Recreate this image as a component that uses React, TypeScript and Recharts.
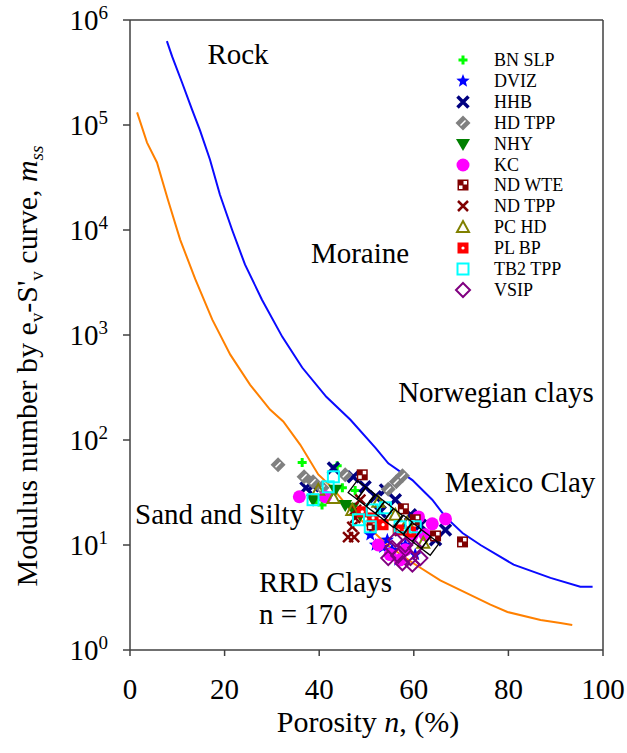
import { ComposedChart, Scatter, XAxis, YAxis, ReferenceLine, Legend, Customized } from "recharts";

const SERIF = '"Liberation Serif", "Times New Roman", serif';
const AXIS = "#404040";

// upper and lower bounds of the modulus number (porosity %, m_ss)
const upperBound = [
  [7.8, 6.3e5], [8.9, 4.5e5], [11.0, 2.54e5], [13.1, 1.41e5], [14.8, 8.9e4], [16.9, 4.7e4],
  [19.0, 2.18e4], [21.6, 1.0e4], [24.3, 4.7e3], [27.9, 2.17e3], [32.2, 960], [36.4, 490],
  [41.5, 258], [46.6, 156], [51.9, 84], [54.6, 60], [59.7, 41.5], [63.9, 27], [66.7, 18.5],
  [70.3, 13], [74.1, 10], [81.1, 6.5], [88.9, 4.86], [95.2, 4.0], [97.8, 4.0],
];
const lowerBound = [
  [1.5, 1.32e5], [3.6, 6.8e4], [5.7, 4.4e4], [8.0, 1.95e4], [10.6, 8.1e3], [13.8, 3.4e3],
  [17.4, 1.4e3], [21.2, 650], [25.4, 335], [29.6, 195], [32.4, 150], [36.0, 90], [39.8, 47],
  [42.8, 35], [46.6, 21.6], [54.4, 10], [59.9, 6.7], [65.6, 4.6], [76.2, 2.7], [79.8, 2.3],
  [86.8, 1.93], [91.0, 1.81], [93.5, 1.73],
];

// RRD clay test results
const bnSlp = [[36.4, 61], [43.8, 57], [40.6, 24], [39.4, 27], [44.9, 35], [47.6, 33]];
const dviz = [[54.4, 11.2], [55.4, 9.0], [56.7, 7.2], [51.9, 10], [58.2, 10], [60.3, 8.1], [53.5, 9.5], [50.8, 12.5]];
const hhb = [
  [43.0, 54], [37.2, 35], [38.7, 36.6], [47.2, 44.6], [49.7, 35.8], [51.9, 28.8], [54.0, 33.5],
  [56.1, 27], [52.9, 20.7], [59.3, 19.4], [61.4, 15.5], [66.7, 13.9], [64.6, 11.2], [57.1, 13.9],
];
const hdTpp = [[31.3, 58], [36.8, 44.6], [38.7, 40], [40.6, 35], [45.5, 46.6], [54.6, 34], [56.3, 40], [57.6, 45.7]];
const nhy = [[38.7, 27], [43.4, 33.5], [45.5, 24], [47.0, 22.6], [41.9, 28.8], [48.7, 19.4], [51.2, 17.4]];
const kc = [
  [35.8, 28.8], [41.3, 28.8], [52.5, 10], [57.1, 7.2], [58.2, 9.0], [61.0, 18.5], [63.9, 15.9],
  [66.7, 17.7], [62.4, 12.5], [55.0, 8.1], [59.7, 12.5],
];
const ndWte = [[49.1, 46.6], [57.8, 22.1], [51.2, 15.5], [64.6, 12.2], [70.3, 10.7], [60.3, 17.4]];
const ndTpp = [[46.1, 11.9], [47.4, 11.9], [47.0, 14.9], [47.6, 18.1], [47.8, 21.6], [48.7, 27]];
const pcHd = [[39.8, 33.5], [43.0, 28.1], [47.0, 21.6], [52.5, 25.8], [58.6, 16.3], [62.0, 10.5], [56.1, 19.4]];
const plBp = [[51.4, 18.1], [53.5, 15.6], [56.7, 13.9], [59.3, 13.3], [49.1, 20.7]];
const tb2Tpp = [[43.0, 44.6], [41.9, 35.8], [38.7, 27], [48.3, 17.4], [50.8, 14.9], [51.2, 21.6], [54.0, 22.6], [57.1, 14.9], [60.3, 14.9]];
const vsip = [
  [55.4, 9.4], [56.7, 7.9], [58.2, 10], [59.3, 7.5], [60.3, 9.4], [57.6, 6.7], [61.4, 7.5],
  [54.6, 7.5], [56.1, 11.2], [59.7, 6.5],
];
// outlined band over the main cluster
const band = [[48.0, 33.5], [49.9, 28.8], [51.9, 24.6], [53.8, 21.1], [55.7, 18.1], [57.8, 15.6], [59.7, 13.3], [61.6, 11.4], [63.5, 9.8]];

const xTicks = [0, 20, 40, 60, 80, 100];
const yTicks = [1, 10, 100, 1e3, 1e4, 1e5, 1e6];

const pts = (arr: number[][]) => arr.map(([x, y]) => ({ x, y }));

type Kind = "plus" | "star" | "xThick" | "diamondGrey" | "triDown" | "circle" | "checker" | "xThin" | "triOpen" | "dotSquare" | "squareOpen" | "diamondOpen" | "band";

const drawMarker = (kind: Kind, color: string, cx: number, cy: number) => {
  switch (kind) {
    case "plus":
      return (
        <path d={`M${cx - 4.5},${cy}H${cx + 4.5}M${cx},${cy - 4.5}V${cy + 4.5}`} stroke={color} strokeWidth={3} />
      );
    case "star": {
      const p: string[] = [];
      for (let i = 0; i < 10; i++) {
        const r = i % 2 === 0 ? 7 : 3;
        const a = -Math.PI / 2 + (i * Math.PI) / 5;
        p.push(`${cx + r * Math.cos(a)},${cy + r * Math.sin(a)}`);
      }
      return <polygon points={p.join(" ")} fill={color} />;
    }
    case "xThick":
      return (
        <path d={`M${cx - 5.5},${cy - 5.5}L${cx + 5.5},${cy + 5.5}M${cx + 5.5},${cy - 5.5}L${cx - 5.5},${cy + 5.5}`} stroke={color} strokeWidth={3.5} />
      );
    case "xThin":
      return (
        <path d={`M${cx - 5},${cy - 5}L${cx + 5},${cy + 5}M${cx + 5},${cy - 5}L${cx - 5},${cy + 5}`} stroke={color} strokeWidth={2.5} />
      );
    case "diamondGrey":
      return (
        <g>
          <polygon points={`${cx},${cy - 7.5} ${cx + 7.5},${cy} ${cx},${cy + 7.5} ${cx - 7.5},${cy}`} fill={color} />
          <path d={`M${cx - 2.5},${cy + 2.5}L${cx + 2.5},${cy - 2.5}`} stroke="#fff" strokeWidth={1.5} />
        </g>
      );
    case "triDown":
      return <polygon points={`${cx - 7},${cy - 5} ${cx + 7},${cy - 5} ${cx},${cy + 7}`} fill={color} />;
    case "circle":
      return <circle cx={cx} cy={cy} r={6.5} fill={color} />;
    case "checker":
      return (
        <g>
          <rect x={cx - 5.5} y={cy - 5.5} width={11} height={11} fill={color} />
          <rect x={cx + 0.5} y={cy - 4} width={3.5} height={3.5} fill="#fff" />
          <rect x={cx - 4} y={cy + 0.5} width={3.5} height={3.5} fill="#fff" />
        </g>
      );
    case "triOpen":
      return <polygon points={`${cx - 6},${cy + 5} ${cx + 6},${cy + 5} ${cx},${cy - 6}`} fill="none" stroke={color} strokeWidth={2} />;
    case "dotSquare":
      return (
        <g>
          <rect x={cx - 5.5} y={cy - 5.5} width={11} height={11} fill={color} />
          <circle cx={cx} cy={cy} r={1.6} fill="#fff" />
        </g>
      );
    case "squareOpen":
      return <rect x={cx - 5.5} y={cy - 5.5} width={11} height={11} fill="none" stroke={color} strokeWidth={2} />;
    case "diamondOpen":
      return <polygon points={`${cx},${cy - 7} ${cx + 7},${cy} ${cx},${cy + 7} ${cx - 7},${cy}`} fill="none" stroke={color} strokeWidth={2} />;
    case "band":
      return (
        <rect x={cx - 5.5} y={cy - 7.5} width={11} height={15} fill="none" stroke={color} strokeWidth={1.3} transform={`rotate(37 ${cx} ${cy})`} />
      );
  }
  return <g />;
};

const series: { name: string; data: number[][]; kind: Kind; color: string }[] = [
  { name: "BN SLP", data: bnSlp, kind: "plus", color: "#00ff00" },
  { name: "DVIZ", data: dviz, kind: "star", color: "#0000ff" },
  { name: "HHB", data: hhb, kind: "xThick", color: "#000080" },
  { name: "HD TPP", data: hdTpp, kind: "diamondGrey", color: "#808080" },
  { name: "NHY", data: nhy, kind: "triDown", color: "#008000" },
  { name: "KC", data: kc, kind: "circle", color: "#ff00ff" },
  { name: "ND WTE", data: ndWte, kind: "checker", color: "#800000" },
  { name: "ND TPP", data: ndTpp, kind: "xThin", color: "#800000" },
  { name: "PC HD", data: pcHd, kind: "triOpen", color: "#808000" },
  { name: "PL BP", data: plBp, kind: "dotSquare", color: "#ff0000" },
  { name: "TB2 TPP", data: tb2Tpp, kind: "squareOpen", color: "#00ffff" },
  { name: "VSIP", data: vsip, kind: "diamondOpen", color: "#800080" },
];

const LegendBox = () => (
  <div style={{ fontFamily: SERIF, fontSize: 18, color: "#000" }}>
    {series.map((s) => (
      <div key={s.name} style={{ display: "flex", alignItems: "center", height: 20.85 }}>
        <svg width={22} height={20} style={{ marginRight: 20 }}>
          {drawMarker(s.kind, s.color, 11, 10)}
        </svg>
        <span style={{ lineHeight: "20px" }}>{s.name}</span>
      </div>
    ))}
  </div>
);

const YTick = (props: any) => {
  const { x, y, payload } = props;
  const exp = Math.round(Math.log10(payload.value));
  return (
    <text x={x - 13} y={y + 10} textAnchor="end" fontFamily={SERIF} fontSize={29} fill="#000">
      10<tspan dy={-11} fontSize={19}>{exp}</tspan>
    </text>
  );
};

const XTick = (props: any) => {
  const { x, y, payload } = props;
  return (
    <text x={x} y={y + 41} textAnchor="middle" fontFamily={SERIF} fontSize={29} fill="#000">
      {payload.value}
    </text>
  );
};

const Annotations = () => (
  <g fontFamily={SERIF} fontSize={29} fill="#000">
    <text x={238} y={64} textAnchor="middle">Rock</text>
    <text x={360} y={263} textAnchor="middle">Moraine</text>
    <text x={496} y={402} textAnchor="middle">Norwegian clays</text>
    <text x={520} y={492} textAnchor="middle">Mexico Clay</text>
    <text x={135} y={524}>Sand and Silty</text>
    <text x={259} y={592}>RRD Clays</text>
    <text x={259} y={624}>n = 170</text>
    <text x={368} y={732} textAnchor="middle" fontSize={30}>
      Porosity <tspan fontStyle="italic">n</tspan>, (%)
    </text>
    <text transform="rotate(-90)" x={-366} y={37} textAnchor="middle" fontSize={30}>
      Modulus number by e<tspan fontSize={19} dy={6}>v</tspan>
      <tspan dy={-6}>-S'</tspan>
      <tspan fontSize={19} dy={6}>v</tspan>
      <tspan dy={-6}> curve, </tspan>
      <tspan fontStyle="italic">m</tspan>
      <tspan fontStyle="italic" fontSize={19} dy={6}>ss</tspan>
    </text>
  </g>
);

export default function App() {
  return (
    <div style={{ position: "absolute", left: 0, top: 0, background: "#fff" }}>
      <ComposedChart width={627} height={753} margin={{ top: 20, right: 24, bottom: 0, left: 0 }}>
        <XAxis
          type="number"
          dataKey="x"
          domain={[0, 100]}
          ticks={xTicks}
          allowDataOverflow
          height={103}
          tickSize={6}
          axisLine={{ stroke: AXIS, strokeWidth: 1.5 }}
          tickLine={{ stroke: AXIS, strokeWidth: 1.5 }}
          tick={<XTick />}
        />
        <YAxis
          type="number"
          dataKey="y"
          scale="log"
          domain={[1, 1e6]}
          ticks={yTicks}
          allowDataOverflow
          width={130}
          tickSize={7}
          axisLine={{ stroke: AXIS, strokeWidth: 1.5 }}
          tickLine={{ stroke: AXIS, strokeWidth: 1.5 }}
          tick={<YTick />}
        />
        <ReferenceLine y={1e6} stroke={AXIS} strokeWidth={1.5} />
        <ReferenceLine x={100} stroke={AXIS} strokeWidth={1.5} />
        <Scatter
          name="upper"
          data={pts(upperBound)}
          line={{ stroke: "#0a0aff", strokeWidth: 2 }}
          shape={() => <g />}
          legendType="none"
          isAnimationActive={false}
        />
        <Scatter
          name="lower"
          data={pts(lowerBound)}
          line={{ stroke: "#ff8000", strokeWidth: 2 }}
          shape={() => <g />}
          legendType="none"
          isAnimationActive={false}
        />
        {series.map((s) => (
          <Scatter
            key={s.name}
            name={s.name}
            data={pts(s.data)}
            shape={(p: any) => drawMarker(s.kind, s.color, p.cx, p.cy)}
            isAnimationActive={false}
          />
        ))}
        <Scatter
          name="band"
          data={pts(band)}
          shape={(p: any) => drawMarker("band", "#000", p.cx, p.cy)}
          legendType="none"
          isAnimationActive={false}
        />
        <Legend
          layout="vertical"
          align="center"
          verticalAlign="middle"
          wrapperStyle={{ left: 452, top: 50, width: 160 }}
          content={() => <LegendBox />}
        />
        <Customized component={Annotations} />
      </ComposedChart>
    </div>
  );
}
